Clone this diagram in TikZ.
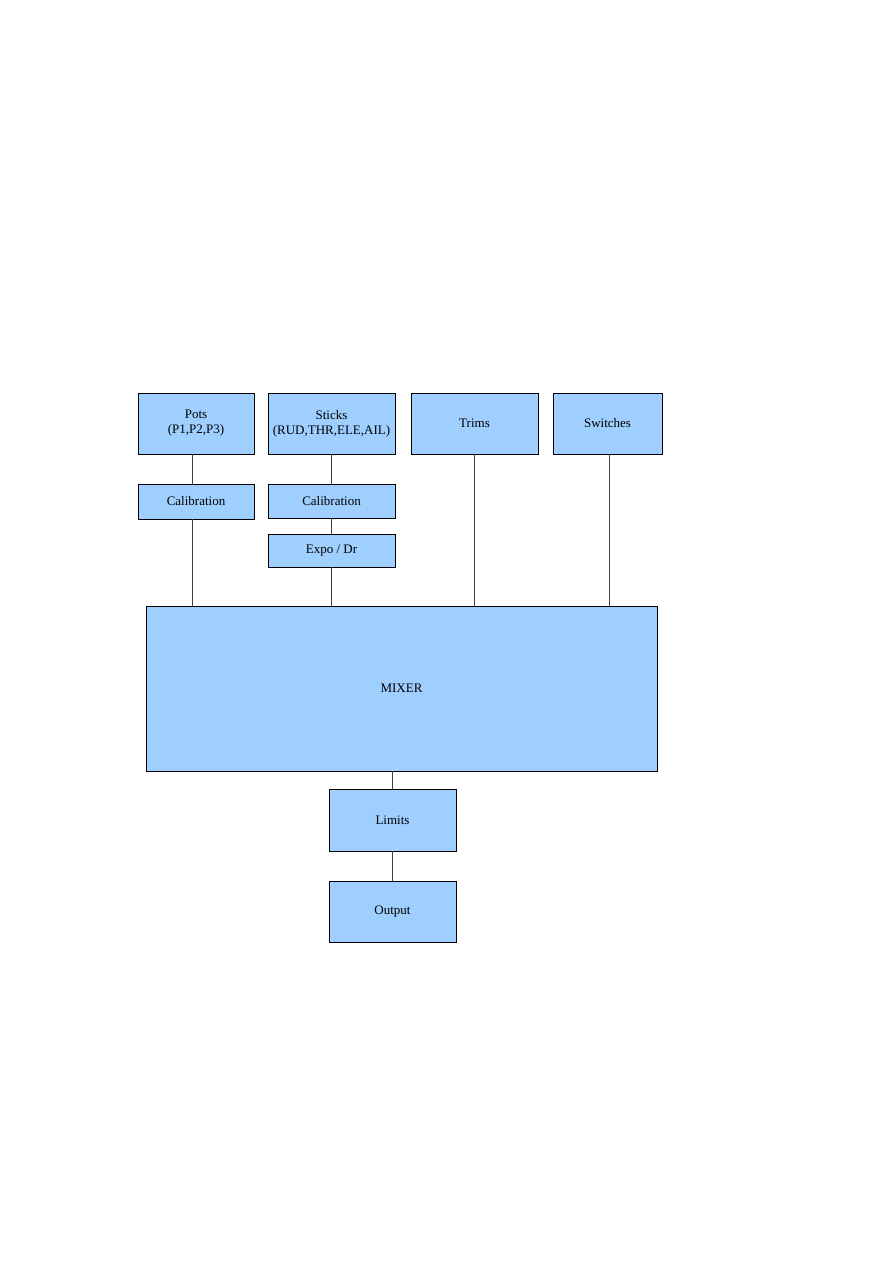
\documentclass[tikz,border=0pt]{standalone}
\usepackage{fontspec}
\setmainfont{Liberation Serif}
\begin{document}
\begin{tikzpicture}[x=1pt,y=-1pt,
  blk/.style={draw=black, line width=0.9pt, fill=blockfill, inner sep=0pt, align=center, font=\fontsize{13}{15}\selectfont},
  wire/.style={draw=black!75, line width=0.9pt}]
\definecolor{blockfill}{HTML}{9FCFFF}
\useasboundingbox (0,0) rectangle (893,1263);
\fill[white] (0,0) rectangle (893,1263);
\newcommand{\blkat}[6]{\node[blk, minimum width=#4-#2, minimum height=#5-#3] (#1) at ({(#2+#4)/2},{(#3+#5)/2}) {#6};}
\blkat{pots}{138}{393}{254}{454}{Pots\\(P1,P2,P3)}
\blkat{sticks}{268}{393}{395}{454}{Sticks\\(RUD,THR,ELE,AIL)}
\blkat{trims}{411}{393}{538}{454}{Trims}
\blkat{switches}{553}{393}{662}{454}{Switches}
\blkat{cala}{138}{484}{254}{519}{Calibration}
\blkat{calb}{268}{484}{395}{518}{Calibration}
\blkat{expo}{268}{534}{395}{567}{Expo / Dr}
\blkat{mixer}{146}{606}{657}{771}{MIXER}
\blkat{limits}{329}{789}{456}{851}{Limits}
\blkat{output}{329}{881}{456}{942}{Output}
\draw[wire] ([xshift=-4pt]pots.south) -- ([xshift=-4pt]cala.north);
\draw[wire] ([xshift=-4pt]cala.south) -- ([xshift=-4pt]cala.south |- mixer.north);
\draw[wire] (sticks.south) -- (calb.north);
\draw[wire] (calb.south) -- (expo.north);
\draw[wire] (expo.south) -- (expo.south |- mixer.north);
\draw[wire] (trims.south) -- (trims.south |- mixer.north);
\draw[wire] ([xshift=1.5pt]switches.south) -- ([xshift=1.5pt]switches.south |- mixer.north);
\draw[wire] (limits.north |- mixer.south) -- (limits.north);
\draw[wire] (limits.south) -- (output.north);
\end{tikzpicture}
\end{document}
